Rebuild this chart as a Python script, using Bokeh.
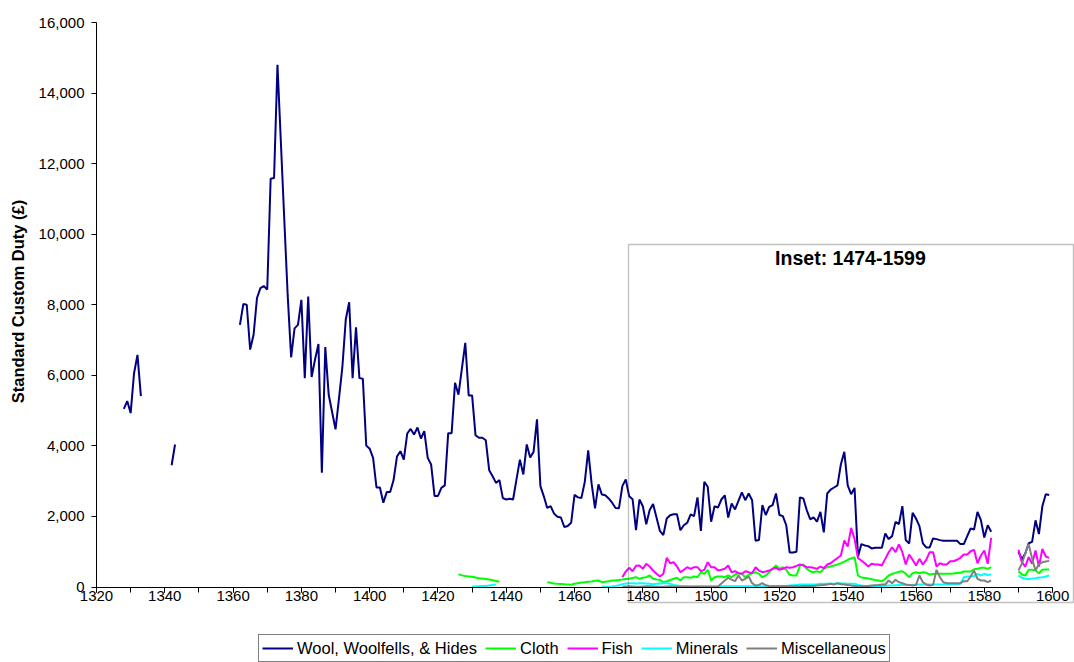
import numpy as np
from bokeh.plotting import figure
from bokeh.models import (Range1d, SingleIntervalTicker, NumeralTickFormatter, BoxAnnotation,
                          Label, Legend, LegendItem)
from bokeh.embed import file_html
from bokeh.resources import INLINE

FIRST_YEAR, LAST_YEAR = 1320, 1600

# ---- Wool, Woolfells, & Hides (segments: start year, values) ----
wool_1328 = [5050, 5270, 4930, 6060, 6580, 5410]
wool_1342 = [3450, 4040]
wool_1362 = [
    7430, 8020, 8000, 6730, 7150, 8190, 8470, 8530, 8430, 11570,
    11590, 14800, 12600, 10400, 8250, 6510, 7330, 7430, 8140, 5920,
    8230, 5950, 6450, 6890, 3240, 6800, 5450, 4960, 4470, 5330,
    6230, 7580, 8070, 5920, 7360, 5920, 5900, 4010, 3920, 3660,
    2820, 2820, 2390, 2690, 2690, 3030, 3700, 3850, 3610, 4350,
    4480, 4320, 4520, 4210, 4420, 3660, 3470, 2580, 2580, 2810,
    2880, 4360, 4360, 5790, 5450, 6180, 6920, 5430, 5430, 4300,
    4230, 4230, 4160, 3310, 3140, 2950, 3030, 2520, 2480, 2500,
    2480, 3050, 3610, 3190, 4040, 3670, 3830, 4750, 2860, 2570,
    2240, 2290, 2080, 1990, 1970, 1700, 1730, 1820, 2610, 2540,
    2520, 2980, 3870, 2930, 2230, 2910, 2620, 2600, 2510, 2390,
    2240, 2230, 2860, 3050, 2570, 2490, 1610, 2480, 2290, 1780,
    2180, 2350, 1970, 1590, 1470, 1940, 2035, 2060, 2060, 1610,
    1750, 1820, 2060, 2010, 2540, 1590, 2980, 2840, 1850, 2290,
    2250, 2480, 2600, 1970, 2370, 2200, 2440, 2680, 2460, 2650,
    2460, 1310, 1330, 2320, 2040, 2270, 2320, 2650, 2040, 2010,
    1750, 980, 980, 1000, 2540, 2510, 2180, 1920, 1970, 1850,
    2130, 1550, 2650, 2760, 2820, 2880, 3480, 3830, 2880, 2630,
    2810, 860, 1216, 1178, 1159, 1093, 1112, 1112, 1112, 1517,
    1357, 1442, 1846, 1781, 2290, 1329, 1235, 2101, 1942, 1724,
    1235, 1122, 1122, 1376, 1357, 1329, 1310, 1310, 1310, 1310,
    1310, 1216, 1216, 1442, 1658, 1630, 2129, 1894, 1404, 1753, 1564,
]
wool_1590 = [1000, 780, 950, 1240, 1280, 1890, 1500, 2290, 2630, 2610]

# ---- Cloth ----
cloth_1426 = [360, 330, 310, 300, 290, 270, 250, 240, 230, 210, 190, 170, 150]
cloth_1452 = [
    136, 120, 100, 91, 85, 75, 71, 62, 90, 108,
    125, 136, 150, 156, 175, 184, 136, 150, 164, 184,
    190, 200, 212, 225, 232, 255, 278, 232, 260, 278,
    326, 232, 210, 204, 136, 164, 200, 232, 260, 184,
    278, 278, 260, 297, 278, 419, 374, 487, 184, 278,
    297, 297, 278, 326, 278, 354, 391, 374, 278, 345,
    391, 419, 374, 278, 326, 419, 515, 609, 515, 561,
    487, 345, 326, 326, 609, 637, 515, 448, 419, 448,
    419, 515, 561, 585, 609, 640, 674, 720, 771, 810,
    845, 326, 270, 255, 240, 221, 200, 184, 164, 232,
    326, 374, 400, 430, 448, 374, 278, 391, 419, 391,
    419, 402, 354, 370, 374, 374, 374, 374, 374, 385,
    395, 402, 439, 439, 439, 500, 515, 543, 543, 515, 561,
]
cloth_1590 = [448, 354, 326, 487, 487, 467, 391, 487, 496, 496]

# ---- Fish ----
fish_1474 = [
    280, 440, 544, 448, 600, 609, 515, 657, 580, 467,
    374, 297, 374, 827, 674, 703, 580, 419, 487, 561,
    515, 561, 561, 448, 487, 703, 561, 561, 467, 487,
    515, 609, 419, 448, 391, 374, 448, 419, 391, 561,
    467, 419, 439, 467, 515, 543, 487, 515, 561, 543,
    561, 600, 637, 609, 561, 561, 543, 515, 580, 533,
    637, 674, 750, 820, 892, 1317, 1147, 1677, 1365, 820,
    751, 674, 580, 657, 637, 637, 609, 798, 986, 1127,
    986, 1204, 986, 637, 921, 771, 609, 798, 637, 771,
    986, 986, 580, 674, 637, 637, 731, 731, 771, 827,
    921, 921, 1014, 1054, 674, 892, 1034, 657, 1394,
]
fish_1590 = [1054, 703, 580, 845, 657, 1034, 580, 1082, 864, 827]

# ---- Minerals ----
minerals_1430 = [15, 15, 20, 25, 30, 45, 60, 70]
minerals_1468 = [
    15, 10, 10, 15, 30, 50, 80, 100, 108, 108,
    100, 108, 108, 100, 90, 80, 90, 100, 108, 108,
    90, 60, 42, 30, 25, 20, 20, 20, 20, 20,
    20, 20, 20, 20, 20, 20, 20, 20, 20, 20,
    20, 20, 20, 20, 20, 20, 20, 20, 20, 20,
    20, 20, 20, 25, 30, 40, 50, 60, 70, 71,
    71, 71, 71, 80, 90, 90, 90, 90, 90, 100,
    108, 100, 90, 90, 90, 60, 40, 30, 25, 20,
    20, 25, 30, 35, 40, 45, 50, 55, 60, 60,
    60, 65, 65, 70, 70, 70, 70, 70, 70, 70,
    70, 70, 70, 75, 80, 90, 278, 297, 297, 310,
    374, 326, 374, 340, 354,
]
minerals_1590 = [326, 260, 232, 220, 240, 250, 270, 278, 297, 326]

# ---- Miscellaneous ----
misc_1474 = [
    10, 15, 20, 15, 10, 10, 15, 20, 20, 15,
    10, 10, 10, 15, 20, 15, 10, 10, 10, 10,
    10, 10, 10, 10, 10, 10, 10, 10, 15, 100,
    184, 260, 210, 164, 326, 184, 232, 297, 108, 42,
    60, 108, 50, 30, 20, 20, 20, 20, 20, 20,
    20, 20, 20, 25, 30, 30, 30, 40, 50, 60,
    70, 90, 70, 108, 80, 71, 60, 40, 30, 20,
    20, 20, 30, 40, 50, 60, 71, 71, 184, 108,
    204, 136, 110, 71, 60, 42, 60, 326, 136, 71,
    42, 60, 487, 278, 136, 108, 108, 108, 108, 108,
    164, 164, 297, 467, 232, 184, 184, 136, 184,
]
misc_1590 = [470, 660, 950, 1220, 800, 470, 650, 700, 720, 740]

SERIES_NAMES = ["Wool, Woolfells, & Hides", "Cloth", "Fish", "Minerals", "Miscellaneous"]
SERIES_COLORS = ["#000080", "#00FF00", "#FF00FF", "#00FFFF", "#808080"]
Y_MAX = 16000
Y_TICK_STEP = 2000
X_TICK_STEP = 20
Y_LABEL = "Standard Custom Duty (£)"
INSET_TITLE = "Inset: 1474-1599"
INSET_YEARS = (1475.8, 1606.1)
INSET_VALUES = (-439, 9708)


def build(*segments):
    years = np.arange(FIRST_YEAR, LAST_YEAR)
    vals = np.full(len(years), np.nan)
    for start, seg in segments:
        for i, v in enumerate(seg):
            idx = start - FIRST_YEAR + i
            if 0 <= idx < len(vals):
                vals[idx] = v
    return years, vals


series_data = [
    build((1328, wool_1328), (1342, wool_1342), (1362, wool_1362), (1590, wool_1590)),
    build((1426, cloth_1426), (1452, cloth_1452), (1590, cloth_1590)),
    build((1474, fish_1474), (1590, fish_1590)),
    build((1430, minerals_1430), (1468, minerals_1468), (1590, minerals_1590)),
    build((1474, misc_1474), (1590, misc_1590)),
]

FONT = "Liberation Sans"
W, H = 1074, 662

# The whole canvas is the plot frame; the axes sit at fixed data positions.
# year 1320 -> 96 px, year 1600 -> ~1052 px ; value 16000 -> 22 px, value 0 -> 586.5 px
PX_PER_YEAR = 956.1 / (LAST_YEAR - FIRST_YEAR)
PX_PER_UNIT = 564.5 / Y_MAX
x_start = FIRST_YEAR - 96 / PX_PER_YEAR
x_end = FIRST_YEAR + (W - 96) / PX_PER_YEAR
y_end = Y_MAX + 22 / PX_PER_UNIT
y_start = Y_MAX - (H - 22) / PX_PER_UNIT

p = figure(width=W, height=H,
           x_range=Range1d(x_start, x_end), y_range=Range1d(y_start, y_end),
           output_backend="svg", toolbar_location=None,
           min_border_left=0, min_border_right=0, min_border_top=0, min_border_bottom=0)
p.outline_line_color = None
p.grid.visible = False
p.background_fill_color = "white"
p.border_fill_color = "white"

renderers = []
for (yrs, vals), color in zip(series_data, SERIES_COLORS):
    renderers.append(p.line(yrs, vals, line_color=color, line_width=2))

# axes
p.xaxis.ticker = SingleIntervalTicker(interval=X_TICK_STEP, num_minor_ticks=2)
p.yaxis.ticker = SingleIntervalTicker(interval=Y_TICK_STEP, num_minor_ticks=0)
p.yaxis.formatter = NumeralTickFormatter(format="0,0")
p.xaxis.fixed_location = 0
p.yaxis.fixed_location = FIRST_YEAR
p.xaxis.bounds = (FIRST_YEAR, LAST_YEAR)
p.yaxis.bounds = (0, Y_MAX)
for ax in (p.xaxis, p.yaxis):
    ax.axis_line_color = "black"
    ax.axis_line_width = 1
    ax.major_tick_line_color = "black"
    ax.major_tick_out = 5
    ax.major_tick_in = 0
    ax.major_label_text_font = FONT
    ax.major_label_text_font_size = "15px"
    ax.major_label_text_color = "black"
p.xaxis.minor_tick_line_color = "black"
p.xaxis.minor_tick_out = 5
p.xaxis.minor_tick_in = 0
p.xaxis.major_label_standoff = -1
p.yaxis.minor_tick_line_color = None
p.yaxis.major_label_standoff = 7

# y-axis title (drawn as a rotated label left of the axis)
p.add_layout(Label(x=FIRST_YEAR - 79 / PX_PER_YEAR, y=(586.5 - 301) / PX_PER_UNIT,
                   text=Y_LABEL, angle=np.pi / 2, text_align="center", text_baseline="middle",
                   text_font=FONT, text_font_style="bold", text_font_size="16.5px",
                   text_color="black"))

# inset box and title
p.add_layout(BoxAnnotation(left=INSET_YEARS[0], right=INSET_YEARS[1],
                           bottom=INSET_VALUES[0], top=INSET_VALUES[1],
                           fill_alpha=0, line_color="#333333", line_width=1.3))
p.add_layout(Label(x=1540.8, y=9623, text=INSET_TITLE, text_align="center", text_baseline="top",
                   text_font=FONT, text_font_style="bold", text_font_size="19.5px", text_color="black"))

# legend at the bottom of the canvas
lg = Legend(items=[LegendItem(label=n, renderers=[r]) for n, r in zip(SERIES_NAMES, renderers)],
            orientation="horizontal", location=(258, 0), margin=0, padding=3, spacing=8,
            glyph_width=31, glyph_height=20, label_standoff=4,
            label_text_font=FONT, label_text_font_size="16.5px", label_text_color="black",
            border_line_color="black", border_line_width=1,
            background_fill_color="white", background_fill_alpha=1)
p.add_layout(lg, "center")

open("out.html", "w").write(file_html(p, INLINE))
